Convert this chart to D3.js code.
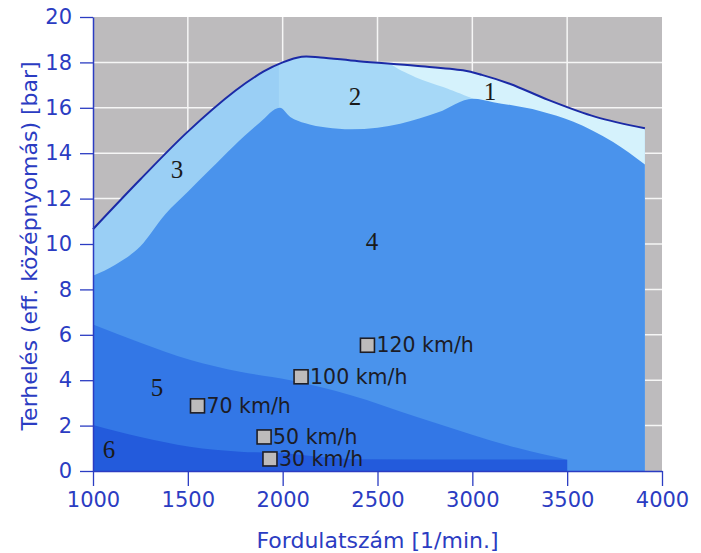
<!DOCTYPE html>
<html>
<head>
<meta charset="utf-8">
<script src="https://cdn.jsdelivr.net/npm/d3@7"></script>
<style>
  html, body { margin:0; padding:0; background:#fff; }
  svg { display:block; }
  .tick text { font-family:"DejaVu Sans", sans-serif; font-size:21px; fill:#2b3cc2; }
  .axis-title { font-family:"DejaVu Sans", sans-serif; font-size:22px; fill:#2b3cc2; }
  .speed-label { font-family:"DejaVu Sans", sans-serif; font-size:20.5px; fill:#1c1c26; }
  .zone-label { font-family:"Liberation Serif", "Times New Roman", serif; font-size:25px; fill:#1a1a1a; }
</style>
</head>
<body>
<div id="chart"></div>
<script>
// Kennfeld — Terhelés / Fordulatszám zónák

// ---- Data ----
const xTicks = [1000, 1500, 2000, 2500, 3000, 3500, 4000];
const yTicks = [0, 2, 4, 6, 8, 10, 12, 14, 16, 18, 20];

// teljes terhelés (felső burkológörbe) [rpm, bar]
const fullLoad = [
  [1000,10.65],[1250,12.85],[1500,14.95],[1750,16.75],[1900,17.6],[2000,18.0],
  [2100,18.25],[2200,18.22],[2400,18.05],[2700,17.85],[2950,17.65],[3050,17.45],
  [3200,17.05],[3400,16.35],[3650,15.6],[3910,15.1]
];
// 4. zóna felső határa
const zone4Top = [
  [1000,8.6],[1120,9.1],[1250,9.9],[1380,11.3],[1500,12.3],[1620,13.3],[1740,14.3],
  [1880,15.35],[1985,16.0],[2040,15.6],[2120,15.32],[2230,15.13],[2360,15.05],
  [2500,15.12],[2620,15.3],[2820,15.8],[3003,16.4],[3110,16.25],[3360,15.85],
  [3530,15.4],[3740,14.5],[3910,13.5]
];
// 1. és 2. zóna határa
const zone12Split = [[2520,18.4],[2566,17.95],[2700,17.35],[2850,16.9],[3003,16.4]];
const zone2Span = [1980, 3003];
const zone1Right = 3910;
// 5. és 6. zóna felső határa
const zone5Top = [
  [1000,6.45],[1250,5.65],[1510,4.9],[1775,4.37],[2040,4.0],[2355,3.35],
  [2708,2.38],[3003,1.59],[3235,1.02],[3500,0.5]
];
const zone6Top = [
  [1000,2.03],[1250,1.5],[1510,1.07],[1775,0.85],[2000,0.78],[2200,0.62],
  [2400,0.52],[3500,0.5]
];

// sebességpontok
const speedNames = ["30 km/h", "50 km/h", "70 km/h", "100 km/h", "120 km/h"];
const speedRpm   = [1933, 1902, 1551, 2097, 2447];
const speedLoad  = [0.53, 1.5, 2.87, 4.15, 5.54];

// zónaszámok
const zoneNames = ["1", "2", "3", "4", "5", "6"];
const zoneRpm   = [3093, 2381, 1443, 2471, 1337, 1084];
const zoneLoad  = [16.7, 16.5, 13.3, 10.1, 3.66, 0.93];

// ---- Layout / scales ----
const W = 701, H = 553;
const x = d3.scaleLinear().domain([1000, 4000]).range([93, 662]);
const y = d3.scaleLinear().domain([0, 20]).range([471, 17]);

const colors = {
  grey: "#bdbbbd", grid: "#f6f6f6",
  z1: "#d5f2fc", z2: "#a6d8f7", z3: "#9acff5",
  z4: "#4a93ec", z5: "#3377e6", z6: "#235bdc",
  line: "#1b2aa6", axis: "#2b3cc2"
};

const svg = d3.select("#chart").append("svg").attr("width", W).attr("height", H);

// background + grid
svg.append("rect")
  .attr("x", x(1000)).attr("y", y(20))
  .attr("width", x(4000) - x(1000)).attr("height", y(0) - y(20))
  .attr("fill", colors.grey);

svg.append("g").selectAll("line").data(xTicks.slice(1, -1)).enter().append("line")
  .attr("x1", d => x(d)).attr("x2", d => x(d))
  .attr("y1", y(0)).attr("y2", y(20))
  .attr("stroke", colors.grid).attr("stroke-width", 1.5);
svg.append("g").selectAll("line").data(yTicks.slice(1, -1)).enter().append("line")
  .attr("x1", x(1000)).attr("x2", x(4000))
  .attr("y1", d => y(d)).attr("y2", d => y(d))
  .attr("stroke", colors.grid).attr("stroke-width", 1.5);

// envelope area / clip
const envArea = d3.area()
  .x(d => x(d[0])).y0(y(0)).y1(d => y(d[1]))
  .curve(d3.curveCatmullRom.alpha(0.5));

svg.append("clipPath").attr("id", "env")
  .append("path").attr("d", envArea(fullLoad));

const zones = svg.append("g").attr("clip-path", "url(#env)");

// 3. zóna (alap)
zones.append("path").attr("d", envArea(fullLoad)).attr("fill", colors.z3);

// 2. zóna
zones.append("rect")
  .attr("x", x(zone2Span[0])).attr("y", y(20))
  .attr("width", x(zone2Span[1]) - x(zone2Span[0]))
  .attr("height", y(12) - y(20))
  .attr("fill", colors.z2);

// 1. zóna
const splitLine = d3.line().x(d => x(d[0])).y(d => y(d[1])).curve(d3.curveCatmullRom.alpha(0.5));
const last = zone12Split[zone12Split.length - 1];
zones.append("path")
  .attr("d", splitLine(zone12Split) +
    `L${x(last[0])},${y(12)}L${x(zone1Right)},${y(12)}L${x(zone1Right)},${y(20)}L${x(zone12Split[0][0])},${y(20)}Z`)
  .attr("fill", colors.z1);

// 4. zóna
zones.append("path")
  .attr("d", d3.area().x(d => x(d[0])).y0(y(0)).y1(d => y(d[1]))
    .curve(d3.curveMonotoneX)(zone4Top))
  .attr("fill", colors.z4);

// 5. zóna
zones.append("path")
  .attr("d", d3.area().x(d => x(d[0])).y0(y(0)).y1(d => y(d[1]))
    .curve(d3.curveMonotoneX)(zone5Top))
  .attr("fill", colors.z5);

// 6. zóna
zones.append("path")
  .attr("d", d3.area().x(d => x(d[0])).y0(y(0)).y1(d => y(d[1]))
    .curve(d3.curveMonotoneX)(zone6Top))
  .attr("fill", colors.z6);

// full-load line
svg.append("path")
  .attr("d", d3.line().x(d => x(d[0])).y(d => y(d[1])).curve(d3.curveCatmullRom.alpha(0.5))(fullLoad))
  .attr("fill", "none").attr("stroke", colors.line).attr("stroke-width", 2);

// y axis
const yAxis = svg.append("g").attr("transform", `translate(${x(1000)},0)`)
  .call(d3.axisLeft(y).tickValues(yTicks).tickFormat(d3.format("d"))
    .tickSize(13).tickSizeOuter(0).tickPadding(8));
// x axis
const xAxis = svg.append("g").attr("transform", `translate(0,${y(0)})`)
  .call(d3.axisBottom(x).tickValues(xTicks).tickFormat(d3.format("d"))
    .tickSize(15).tickSizeOuter(0).tickPadding(6));
[yAxis, xAxis].forEach(a => {
  a.select(".domain").attr("stroke", colors.axis).attr("stroke-width", 1.5);
  a.selectAll(".tick line").attr("stroke", colors.axis).attr("stroke-width", 1.3);
});

// axis titles
svg.append("text").attr("class", "axis-title")
  .attr("x", (x(1000) + x(4000)) / 2).attr("y", 548)
  .attr("text-anchor", "middle")
  .text("Fordulatszám [1/min.]");
svg.append("text").attr("class", "axis-title")
  .attr("transform", `translate(37,${(y(0) + y(20)) / 2 + 2}) rotate(-90)`)
  .attr("text-anchor", "middle")
  .text("Terhelés (eff. középnyomás) [bar]");

// zone numbers
svg.append("g").selectAll("text").data(zoneNames).enter().append("text")
  .attr("class", "zone-label")
  .attr("x", (d, i) => x(zoneRpm[i]))
  .attr("y", (d, i) => y(zoneLoad[i]))
  .attr("text-anchor", "middle").attr("dominant-baseline", "central")
  .text(d => d);

// speed markers
const sq = 14;
const marks = svg.append("g").selectAll("g").data(speedNames).enter().append("g")
  .attr("transform", (d, i) => `translate(${x(speedRpm[i])},${y(speedLoad[i])})`);
marks.append("rect")
  .attr("x", -sq / 2).attr("y", -sq / 2).attr("width", sq).attr("height", sq)
  .attr("fill", "#bdbbbb").attr("stroke", "#1e1e26").attr("stroke-width", 1.6);
marks.append("text").attr("class", "speed-label")
  .attr("x", sq / 2 + 2).attr("y", 0)
  .attr("dominant-baseline", "central")
  .text(d => d);
</script>
</body>
</html>
